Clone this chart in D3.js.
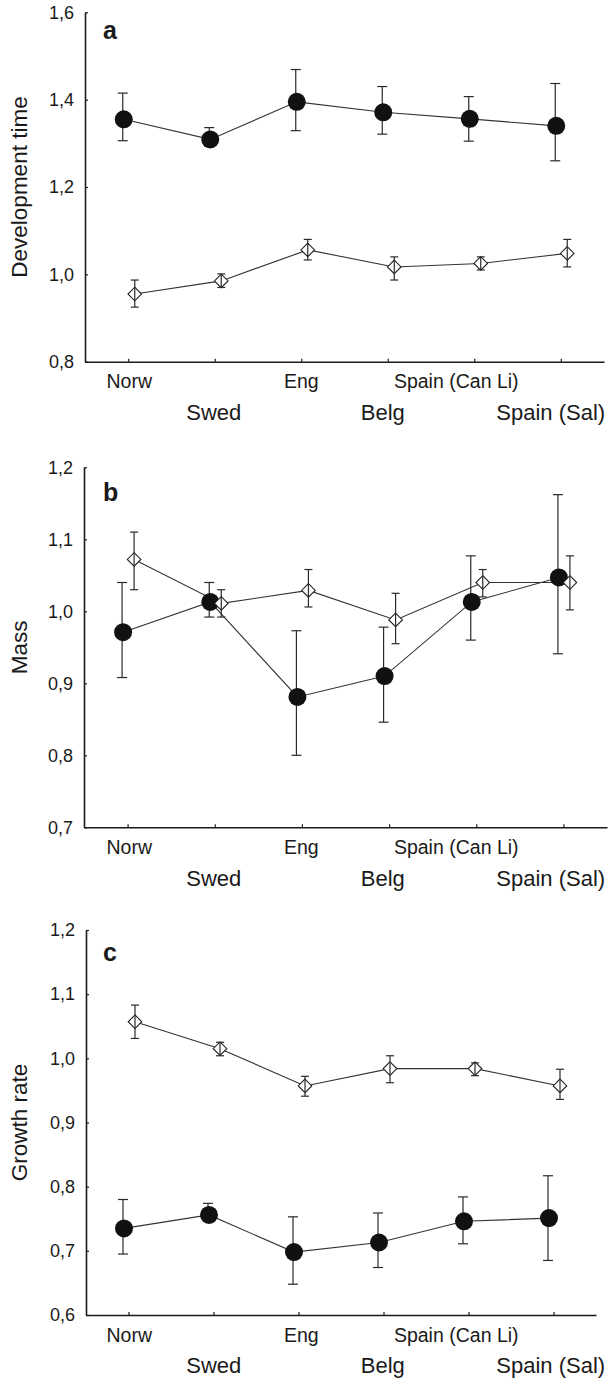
<!DOCTYPE html>
<html>
<head>
<meta charset="utf-8">
<script src="https://cdn.jsdelivr.net/npm/d3@7"></script>
<style>
  body { margin: 0; background: #fff; }
  svg { display: block; font-family: "Liberation Sans", Arial, sans-serif; }
</style>
</head>
<body>
<div id="chart"></div>
<script>
const sites = ["Norw", "Swed", "Eng", "Belg", "Spain (Can Li)", "Spain (Sal)"];

// a - development time
const devTicks = [0.8, 1.0, 1.2, 1.4, 1.6];
const devCircle   = [1.355, 1.309, 1.395, 1.371, 1.356, 1.340];
const devCircleLo = [1.306, 1.293, 1.329, 1.321, 1.305, 1.260];
const devCircleHi = [1.415, 1.336, 1.469, 1.430, 1.407, 1.437];
const devDiamond   = [0.955, 0.985, 1.056, 1.017, 1.025, 1.048];
const devDiamondLo = [0.925, 0.970, 1.033, 0.987, 1.010, 1.017];
const devDiamondHi = [0.987, 1.001, 1.080, 1.040, 1.040, 1.080];

// b - mass
const massTicks = [0.7, 0.8, 0.9, 1.0, 1.1, 1.2];
const massCircle   = [0.971, 1.013, 0.881, 0.910, 1.013, 1.047];
const massCircleLo = [0.908, 0.992, 0.800, 0.846, 0.960, 0.941];
const massCircleHi = [1.040, 1.040, 0.973, 0.978, 1.077, 1.162];
const massDiamond   = [1.072, 1.011, 1.029, 0.988, 1.040, 1.040];
const massDiamondLo = [1.030, 0.992, 1.006, 0.955, 1.020, 1.002];
const massDiamondHi = [1.110, 1.030, 1.058, 1.025, 1.058, 1.077];

// c - growth rate
const growthTicks = [0.6, 0.7, 0.8, 0.9, 1.0, 1.1, 1.2];
const growthCircle   = [0.735, 0.756, 0.698, 0.713, 0.746, 0.751];
const growthCircleLo = [0.695, 0.746, 0.648, 0.674, 0.711, 0.685];
const growthCircleHi = [0.780, 0.774, 0.753, 0.759, 0.784, 0.817];
const growthDiamond   = [1.057, 1.015, 0.957, 0.984, 0.984, 0.957];
const growthDiamondLo = [1.031, 1.004, 0.941, 0.962, 0.973, 0.936];
const growthDiamondHi = [1.083, 1.025, 0.972, 1.004, 0.993, 0.983];

const labelNudge = [1, -1, 0, -5, -18, -10]; // long labels sit left of their tick

const panels = [
  {letter: "a", title: "Development time", ticks: devTicks,
   circ: [devCircle, devCircleLo, devCircleHi], diam: [devDiamond, devDiamondLo, devDiamondHi],
   xRange: [85, 604], yRange: [361.7, 12.3], letterY: 39},
  {letter: "b", title: "Mass", ticks: massTicks,
   circ: [massCircle, massCircleLo, massCircleHi], diam: [massDiamond, massDiamondLo, massDiamondHi],
   xRange: [84, 607], yRange: [827.3, 467.3], letterY: 501},
  {letter: "c", title: "Growth rate", ticks: growthTicks,
   circ: [growthCircle, growthCircleLo, growthCircleHi], diam: [growthDiamond, growthDiamondLo, growthDiamondHi],
   xRange: [86, 596], yRange: [1315, 930], letterY: 961}
];

const ink = "#1a1a1a";
const fmt = d3.formatLocale({decimal: ",", thousands: ".", grouping: [3], currency: ["", ""]}).format(".1f");

const svg = d3.select("#chart").append("svg")
    .attr("width", 615)
    .attr("height", 1382);

// shared label positions (same across the three panels)
const xLabel = d3.scalePoint().domain(sites).range(panels[0].xRange).padding(0.5);

function drawPanel(p) {
    const x = d3.scalePoint().domain(sites).range(p.xRange).padding(0.5);
    const y = d3.scaleLinear().domain(d3.extent(p.ticks)).range(p.yRange);
    const g = svg.append("g");
    const circDx = -4.5, diamDx = 6.5;

    const xAxis = g.append("g")
        .attr("transform", `translate(0,${p.yRange[0]})`)
        .call(d3.axisBottom(x).tickSizeInner(-3).tickSizeOuter(0).tickFormat(""));
    const yAxis = g.append("g")
        .attr("transform", `translate(${p.xRange[0]},0)`)
        .call(d3.axisLeft(y).tickValues(p.ticks).tickFormat(fmt)
            .tickSizeInner(-3).tickSizeOuter(0).tickPadding(11));

    [xAxis, yAxis].forEach(a => {
        a.select(".domain").attr("stroke", ink).attr("stroke-width", 1.6);
        a.selectAll(".tick line").attr("stroke", ink).attr("stroke-width", 1.2);
    });
    yAxis.selectAll(".tick text")
        .attr("fill", ink)
        .style("font-size", "18px")
        .style("font-family", "'Liberation Sans', Arial, sans-serif");

    // two-row site labels
    g.selectAll(".site-label")
        .data(sites)
        .join("text")
        .attr("class", "site-label")
        .attr("x", (d, i) => xLabel(d) + labelNudge[i])
        .attr("y", (d, i) => p.yRange[0] + (i % 2 === 0 ? 26.6 : 58.3))
        .attr("text-anchor", "middle")
        .attr("fill", ink)
        .style("font-size", (d, i) => i % 2 === 0 ? "19.5px" : "22px")
        .text(d => d);

    g.append("text")
        .attr("transform", `translate(27,${(p.yRange[0] + p.yRange[1]) / 2}) rotate(-90)`)
        .attr("text-anchor", "middle")
        .attr("fill", ink)
        .style("font-size", "22.5px")
        .text(p.title);

    g.append("text")
        .attr("x", 103)
        .attr("y", p.letterY)
        .attr("fill", ink)
        .style("font-size", "25px")
        .style("font-weight", "bold")
        .text(p.letter);

    const lineFor = dx => d3.line()
        .x((d, i) => x(sites[i]) + dx)
        .y(d => y(d));

    g.append("path").datum(p.circ[0])
        .attr("fill", "none").attr("stroke", "#333").attr("stroke-width", 1.1)
        .attr("d", lineFor(circDx));
    g.append("path").datum(p.diam[0])
        .attr("fill", "none").attr("stroke", "#333").attr("stroke-width", 1.1)
        .attr("d", lineFor(diamDx));

    function errorBars(series, dx, cap, cls) {
        const eb = g.selectAll("." + cls)
            .data(sites.map((s, i) => ({s, lo: series[1][i], hi: series[2][i]})))
            .join("g")
            .attr("class", cls)
            .attr("stroke", "#2a2a2a")
            .attr("stroke-width", 1.2);
        eb.append("line")
            .attr("x1", d => x(d.s) + dx).attr("x2", d => x(d.s) + dx)
            .attr("y1", d => y(d.lo)).attr("y2", d => y(d.hi));
        eb.append("line")
            .attr("x1", d => x(d.s) + dx - cap).attr("x2", d => x(d.s) + dx + cap)
            .attr("y1", d => y(d.hi)).attr("y2", d => y(d.hi));
        eb.append("line")
            .attr("x1", d => x(d.s) + dx - cap).attr("x2", d => x(d.s) + dx + cap)
            .attr("y1", d => y(d.lo)).attr("y2", d => y(d.lo));
    }

    errorBars(p.circ, circDx - 1, 5, "eb-circ");

    g.selectAll(".dot")
        .data(p.circ[0])
        .join("circle")
        .attr("class", "dot")
        .attr("cx", (d, i) => x(sites[i]) + circDx)
        .attr("cy", d => y(d))
        .attr("r", 9)
        .attr("fill", "#111");

    const h = 6.8;
    g.selectAll(".diamond")
        .data(p.diam[0])
        .join("path")
        .attr("class", "diamond")
        .attr("transform", (d, i) => `translate(${x(sites[i]) + diamDx},${y(d)})`)
        .attr("d", `M0,${-h}L${h},0L0,${h}L${-h},0Z`)
        .attr("fill", "#fff")
        .attr("stroke", "#222")
        .attr("stroke-width", 1.1);

    errorBars(p.diam, diamDx, 4, "eb-diam");
}

panels.forEach(drawPanel);
</script>
</body>
</html>
